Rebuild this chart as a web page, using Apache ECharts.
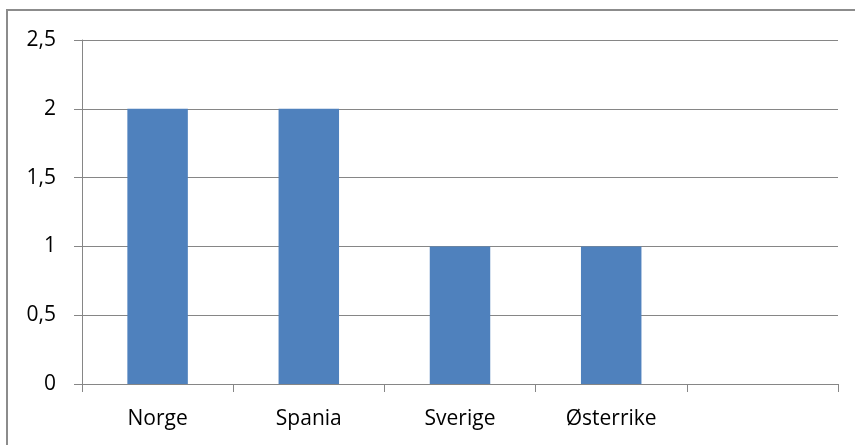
<!DOCTYPE html>
<html>
<head>
<meta charset="utf-8">
<script src="https://cdn.jsdelivr.net/npm/echarts@6/dist/echarts.min.js"></script>
<style>
  html, body { margin: 0; padding: 0; background: #fff; }
  #chart { width: 855px; height: 445px; }
</style>
</head>
<body>
<div id="chart"></div>
<script>
var countries = ['Norge', 'Spania', 'Sverige', 'Østerrike', '']
var counts = [2, 2, 1, 1, null]
var yTicks = [0, 0.5, 1, 1.5, 2, 2.5]

var font = '"Open Sans", Lato, sans-serif'

var option = {
  animation: false,
  graphic: [
    {
      type: 'rect',
      shape: { x: 7, y: 10, width: 870, height: 460 },
      style: { fill: 'none', stroke: '#8c8c8c', lineWidth: 2 }
    }
  ],
  grid: {
    left: 82,
    right: 17,
    top: 40,
    bottom: 61
  },
  xAxis: {
    type: 'category',
    data: countries,
    axisLine: { lineStyle: { color: '#868686', width: 1 } },
    axisTick: { show: true, length: 8, lineStyle: { color: '#868686' } },
    axisLabel: {
      color: '#000',
      fontFamily: font,
      fontSize: 21,
      margin: 25
    }
  },
  yAxis: {
    type: 'value',
    min: yTicks[0],
    max: yTicks[yTicks.length - 1],
    interval: 0.5,
    axisLine: { show: true, lineStyle: { color: '#868686', width: 1 } },
    axisTick: { show: true, length: 8, lineStyle: { color: '#868686' } },
    splitLine: { lineStyle: { color: '#868686', width: 1 } },
    axisLabel: {
      color: '#000',
      fontFamily: font,
      fontSize: 21,
      margin: 26,
      formatter: function (value) {
        return String(value).replace('.', ',')
      }
    }
  },
  series: [
    {
      type: 'bar',
      data: counts,
      barWidth: '40%',
      itemStyle: { color: '#4f81bd' }
    }
  ]
}

var chart = echarts.init(document.getElementById('chart'))
chart.setOption(option)
</script>
</body>
</html>
